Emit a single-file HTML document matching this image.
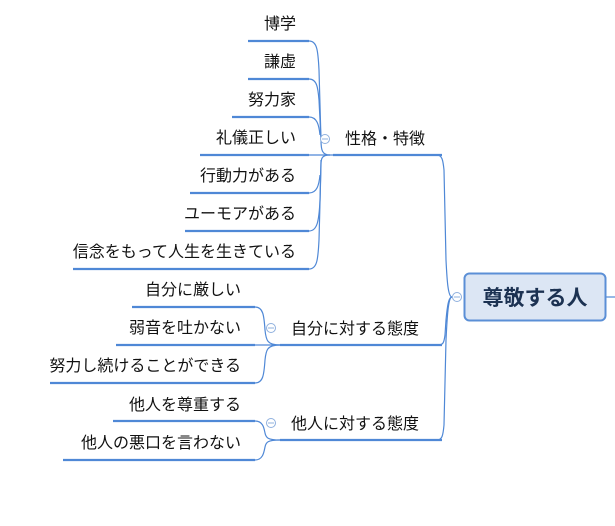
<!DOCTYPE html>
<html><head><meta charset="utf-8"><style>
html,body{margin:0;padding:0;background:#fff;}
svg{display:block;}
text{font-family:"Liberation Sans","Noto Sans CJK JP",sans-serif;fill:#111;font-size:16px;}
</style></head><body>
<svg width="615" height="526" viewBox="0 0 615 526" xmlns="http://www.w3.org/2000/svg">
<g fill="none" stroke="#4f88d6" stroke-width="1.2">
<path d="M452 297 C448 297 447 280 446 260 L444 170 C443 160 442 155 437 155"/>
<path d="M452 297 C448 297 447 310 446 320 L445 335 C444 343 443 345 438 345"/>
<path d="M452 297 C448 297 447 320 446 340 L444 425 C443 436 442 440 437 440"/>
<path d="M605 297 L615 297"/>
<path d="M309 41 C317 41 318 50 319 70 L321 140 C321 150 322 155 330 155"/>
<path d="M309 79 C317 79 318 88 319 100 L321 140"/>
<path d="M309 117 C317 117 319 125 320 135"/>
<path d="M309 155 L333 155"/>
<path d="M309 193 C317 193 319 185 320 175"/>
<path d="M309 231 C317 231 319 222 320 200 L321 160"/>
<path d="M309 269 C317 269 318 260 319 240 L321 165 C321 158 322 155 330 155"/>
<path d="M255 307 C263 307 264 315 265 330 C266 340 267 345 280 345"/>
<path d="M255 345 L280 345"/>
<path d="M255 383 C263 383 264 375 265 360 C266 350 267 345 280 345"/>
<path d="M255 421 C263 421 264 428 265 433 C266 438 268 440 280 440"/>
<path d="M255 460 C263 460 264 452 265 447 C266 442 268 440 280 440"/>
</g>
<g stroke="#4f88d6" stroke-width="2.2" fill="none">
<line x1="248" y1="41" x2="309" y2="41"/>
<line x1="248" y1="79" x2="309" y2="79"/>
<line x1="232" y1="117" x2="309" y2="117"/>
<line x1="200" y1="155" x2="309" y2="155"/>
<line x1="190" y1="193" x2="309" y2="193"/>
<line x1="185" y1="231" x2="309" y2="231"/>
<line x1="73" y1="269" x2="309" y2="269"/>
<line x1="333" y1="155" x2="442" y2="155"/>
<line x1="132" y1="307" x2="255" y2="307"/>
<line x1="116" y1="345" x2="255" y2="345"/>
<line x1="50" y1="383" x2="255" y2="383"/>
<line x1="280" y1="345" x2="442" y2="345"/>
<line x1="113" y1="421" x2="255" y2="421"/>
<line x1="63" y1="460" x2="255" y2="460"/>
<line x1="280" y1="440" x2="442" y2="440"/>
</g>
<g fill="#fff" stroke="#8fb0de" stroke-width="1">
<circle cx="325" cy="139" r="4.5"/><line x1="322" y1="139" x2="328" y2="139"/>
<circle cx="457" cy="297" r="4.5"/><line x1="454" y1="297" x2="460" y2="297"/>
<circle cx="271" cy="328" r="4.5"/><line x1="268" y1="328" x2="274" y2="328"/>
<circle cx="271" cy="423" r="4.5"/><line x1="268" y1="423" x2="274" y2="423"/>
</g>
<rect x="464.5" y="273.5" width="141" height="47" rx="5" fill="#dce6f4" stroke="#5b8fd6" stroke-width="2"/>
<text x="535" y="305" text-anchor="middle" style="font-size:21px;fill:#1c3252;font-weight:bold">尊敬する人</text>
<g text-anchor="end">
<text x="296" y="29">博学</text>
<text x="296" y="67">謙虚</text>
<text x="296" y="105">努力家</text>
<text x="296" y="143">礼儀正しい</text>
<text x="296" y="181">行動力がある</text>
<text x="296" y="219">ユーモアがある</text>
<text x="296" y="257">信念をもって人生を生きている</text>
<text x="241" y="295">自分に厳しい</text>
<text x="241" y="333">弱音を吐かない</text>
<text x="241" y="371">努力し続けることができる</text>
<text x="241" y="410">他人を尊重する</text>
<text x="241" y="448">他人の悪口を言わない</text>
</g>
<text x="345" y="144">性格・特徴</text>
<text x="291" y="334">自分に対する態度</text>
<text x="291" y="429">他人に対する態度</text>
</svg>
</body></html>
